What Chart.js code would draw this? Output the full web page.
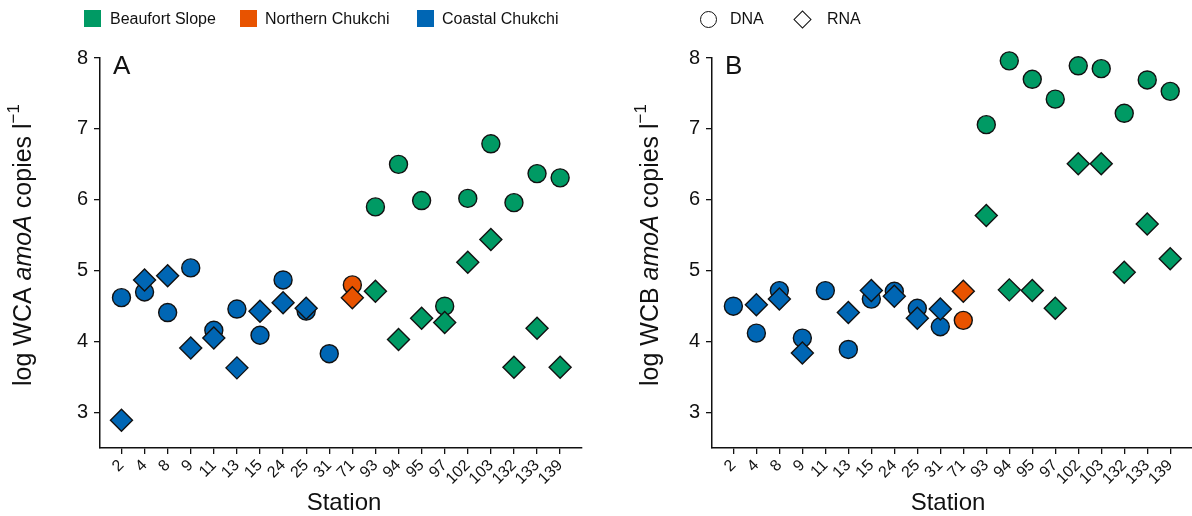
<!DOCTYPE html>
<html><head><meta charset="utf-8">
<script src="https://cdn.jsdelivr.net/npm/chart.js@4"></script>
<style>
body{margin:0;width:1192px;height:516px;position:relative;background:#fff;font-family:"Liberation Sans",Arial,sans-serif;overflow:hidden}
canvas{position:absolute;top:0}
#cA{left:0}
#cB{left:590px}
.lt{position:absolute;top:0;height:38px;line-height:38px;font-size:16px;color:#111;white-space:nowrap}
.sq{position:absolute;top:10px;width:17px;height:17px}
</style></head><body>
<canvas id="cB" width="614" height="516"></canvas>
<canvas id="cA" width="594" height="516"></canvas>
<div id="legend"></div>
<script>
const stations = ['2','4','8','9','11','13','15','24','25','31','71','93','94','95','97','102','103','132','133','139'];
const stationRegion = ['C','C','C','C','C','C','C','C','C','C','N','B','B','B','B','B','B','B','B','B'];
const regionNames = ['Beaufort Slope','Northern Chukchi','Coastal Chukchi'];
const regionKeys = ['B','N','C'];
const regionColors = ['#009a64','#e85300','#0066b4'];
const yTicks = [3,4,5,6,7,8];
const wcaDNA = [4.62, 4.70, 4.41, 5.04, 4.16, 4.46, 4.09, 4.87, 4.43, 3.83, 4.80, 5.90, 6.50, 5.99, 4.50, 6.02, 6.79, 5.96, 6.37, 6.31];
const wcaRNA = [2.89, 4.87, 4.93, 3.91, 4.05, 3.63, 4.43, 4.55, 4.47, null, 4.62, 4.71, 4.03, 4.33, 4.27, 5.12, 5.44, 3.64, 4.19, 3.64];
const wcbDNA = [4.50, 4.12, 4.72, 4.05, 4.72, 3.89, 4.60, 4.71, 4.47, 4.21, 4.30, 7.06, 7.96, 7.70, 7.42, 7.89, 7.85, 7.22, 7.69, 7.53];
const wcbRNA = [null, 4.52, 4.60, 3.84, null, 4.41, 4.72, 4.64, 4.33, 4.46, 4.71, 5.78, 4.73, 4.72, 4.47, 6.51, 6.51, 4.98, 5.66, 5.17];

const FAM = '"Liberation Sans", Arial, sans-serif';
Chart.defaults.font.family = FAM;
Chart.defaults.color = '#111';

function colorOf(i){ return regionColors[regionKeys.indexOf(stationRegion[i])]; }
function pts(arr){ return arr.map((v,i)=>v==null?null:{x:i,y:v}).filter(p=>p); }

const annot = {
  id:'annot',
  afterDraw(chart, args, o){
    const ctx = chart.ctx, ca = chart.chartArea;
    ctx.save();
    ctx.fillStyle = '#111';
    ctx.textAlign = 'left'; ctx.textBaseline = 'alphabetic';
    ctx.font = '26px ' + FAM;
    ctx.fillText(o.letter, ca.left + 13, 74);
    ctx.textAlign = 'center';
    ctx.font = '24px ' + FAM;
    ctx.fillText('Station', o.stationX, 510);
    // y title
    const fs = 25;
    const segs = [
      {t:'log ' + o.gene + ' ', f: fs + 'px ' + FAM, r:0},
      {t:'amoA', f:'italic ' + fs + 'px ' + FAM, r:0},
      {t:' copies l', f: fs + 'px ' + FAM, r:0},
      {t:'\u22121', f: Math.round(fs*0.68) + 'px ' + FAM, r: fs*0.48}
    ];
    let total = 0;
    segs.forEach(s=>{ ctx.font = s.f; s.w = ctx.measureText(s.t).width; total += s.w; });
    ctx.translate(o.titleX + 0.26*fs, o.titleY);
    ctx.rotate(-Math.PI/2);
    ctx.textAlign = 'left';
    let x = -total/2;
    segs.forEach(s=>{ ctx.font = s.f; ctx.fillText(s.t, x, -s.r); x += s.w; });
    ctx.restore();
  }
};

function makeChart(id, dna, rna, o){
  const axisCommon = {
    grid:{display:true, drawOnChartArea:false, drawTicks:true, tickLength:6, color:'#111', lineWidth:1.3},
    border:{display:true, color:'#111', width:1.5}
  };
  return new Chart(document.getElementById(id), {
    type:'scatter',
    data:{datasets:[
      {label:'RNA', data:pts(rna), pointStyle:'rectRot', pointRadius:11, pointHoverRadius:11,
       backgroundColor:c=>colorOf(c.raw.x), borderColor:'#111', borderWidth:1.4, clip:false},
      {label:'DNA', data:pts(dna), pointStyle:'circle', pointRadius:9, pointHoverRadius:9,
       backgroundColor:c=>colorOf(c.raw.x), borderColor:'#111', borderWidth:1.4, clip:false}
    ]},
    options:{
      responsive:false, animation:false, devicePixelRatio:1,
      layout:{padding:{top:58, right:o.padRight, bottom:0, left:0}},
      plugins:{legend:{display:false}, tooltip:{enabled:false}, annot:o},
      scales:{
        x:Object.assign({type:'linear', min:-0.93, max:19.93,
          afterBuildTicks:s=>{ s.ticks = stations.map((_,i)=>({value:i})); },
          afterFit:s=>{ s.height = 516 - 448; },
          ticks:{autoSkip:false, minRotation:45, maxRotation:45, padding:2, color:'#111',
                 font:{size:16}, callback:(v)=>stations[v]}
        }, axisCommon),
        y:Object.assign({type:'linear', min:2.5, max:8,
          afterBuildTicks:s=>{ s.ticks = yTicks.map(v=>({value:v})); },
          afterFit:s=>{ s.width = o.axisLeft; },
          ticks:{padding:6, color:'#111', font:{size:20}}
        }, axisCommon)
      }
    },
    plugins:[annot]
  });
}

makeChart('cA', wcaDNA, wcaRNA, {letter:'A', gene:'WCA', stationX:344, titleX:24, titleY:245, axisLeft:100, padRight:0});
makeChart('cB', wcbDNA, wcbRNA, {letter:'B', gene:'WCB', stationX:948-590, titleX:651-590, titleY:245, axisLeft:122, padRight:0});

// legend
const leg = document.getElementById('legend');
const sqX = [84, 240, 417], txX = [110, 265, 442];
regionNames.forEach((n,i)=>{
  const s = document.createElement('div'); s.className='sq'; s.style.left=sqX[i]+'px'; s.style.background=regionColors[i]; leg.appendChild(s);
  const t = document.createElement('div'); t.className='lt'; t.style.left=txX[i]+'px'; t.textContent=n; leg.appendChild(t);
});
const circ = document.createElement('div');
circ.style.cssText='position:absolute;left:700px;top:10.5px;width:17px;height:17px;box-sizing:border-box;border:1.4px solid #111;border-radius:50%';
leg.appendChild(circ);
const t1 = document.createElement('div'); t1.className='lt'; t1.style.left='730px'; t1.textContent='DNA'; leg.appendChild(t1);
const dia = document.createElement('div');
dia.style.cssText='position:absolute;left:795.5px;top:12.5px;width:13px;height:13px;box-sizing:border-box;border:1.4px solid #111;transform:rotate(45deg)';
leg.appendChild(dia);
const t2 = document.createElement('div'); t2.className='lt'; t2.style.left='827px'; t2.textContent='RNA'; leg.appendChild(t2);
</script>
</body></html>
